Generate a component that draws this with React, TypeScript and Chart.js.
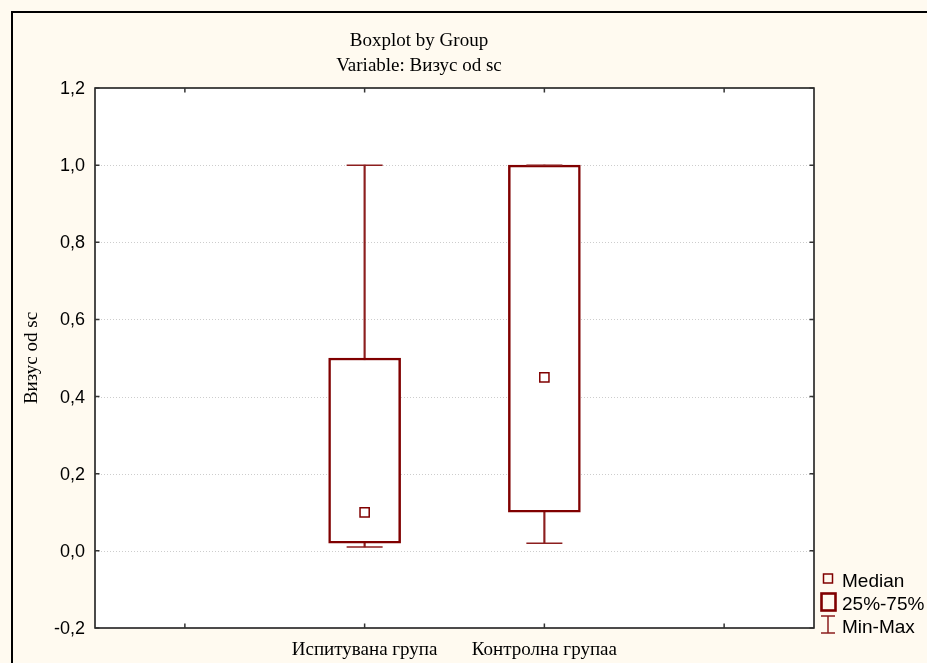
import { useEffect, useRef } from 'react';
import { Chart, registerables } from 'chart.js';

Chart.register(...registerables);

const W = 927;
const H = 663;

// Group statistics for "Визус od sc"
const categories = ['Испитувана група', 'Контролна групаа'];
const groupPositions = [2, 3];
const mins = [0.01, 0.02];
const q1s = [0.02, 0.1];
const medians = [0.1, 0.45];
const q3s = [0.5, 1.0];
const maxs = [1.0, 1.0];

const xTickPositions = [1, 2, 3, 4];
const yTickValues = [-0.2, 0, 0.2, 0.4, 0.6, 0.8, 1.0, 1.2];
const Y_MIN = -0.2;
const Y_MAX = 1.2;

const titleLines = ['Boxplot by Group', 'Variable: Визус od sc'];
const yAxisTitle = 'Визус od sc';
const legendItems = ['Median', '25%-75%', 'Min-Max'];

const BOX_RED = '#800000';
const WHISKER_RED = '#8c1e1e';
const CREAM = '#fffaf0';
const SERIF = '"Liberation Serif", "Times New Roman", serif';
const SANS = '"Liberation Sans", Arial, sans-serif';

const fmt = (v: number) => v.toFixed(1).replace('.', ',');

const decor = {
  id: 'decor',
  beforeDraw(chart: any) {
    const { ctx, chartArea: a } = chart;
    const ys = chart.scales.y;
    ctx.save();
    ctx.fillStyle = CREAM;
    ctx.fillRect(0, 0, W, H);
    ctx.fillStyle = '#ffffff';
    ctx.fillRect(a.left, a.top, a.right - a.left, a.bottom - a.top);
    // dotted horizontal grid
    ctx.strokeStyle = '#cdcdcd';
    ctx.lineWidth = 1;
    ctx.setLineDash([1, 2]);
    for (const v of yTickValues) {
      if (v <= Y_MIN || v >= Y_MAX) continue;
      const py = Math.round(ys.getPixelForValue(v)) + 0.5;
      ctx.beginPath();
      ctx.moveTo(a.left, py);
      ctx.lineTo(a.right, py);
      ctx.stroke();
    }
    ctx.restore();
  },
  afterDraw(chart: any) {
    const { ctx, chartArea: a } = chart;
    const xs = chart.scales.x;
    const ys = chart.scales.y;
    ctx.save();

    // plot frame
    ctx.strokeStyle = '#111';
    ctx.lineWidth = 1.5;
    ctx.strokeRect(a.left, a.top, a.right - a.left, a.bottom - a.top);

    // inward ticks
    ctx.lineWidth = 1.5;
    ctx.strokeStyle = '#333';
    const tl = 4.5;
    for (const v of yTickValues) {
      const py = ys.getPixelForValue(v);
      ctx.beginPath();
      ctx.moveTo(a.left, py);
      ctx.lineTo(a.left + tl, py);
      ctx.moveTo(a.right, py);
      ctx.lineTo(a.right - tl, py);
      ctx.stroke();
    }
    for (const v of xTickPositions) {
      const px = xs.getPixelForValue(v);
      ctx.beginPath();
      ctx.moveTo(px, a.top);
      ctx.lineTo(px, a.top + tl);
      ctx.moveTo(px, a.bottom);
      ctx.lineTo(px, a.bottom - tl);
      ctx.stroke();
    }

    // y tick labels
    ctx.fillStyle = '#000';
    ctx.font = `18px ${SANS}`;
    ctx.textAlign = 'right';
    ctx.textBaseline = 'middle';
    for (const v of yTickValues) {
      ctx.fillText(fmt(v), a.left - 10, ys.getPixelForValue(v) + 1);
    }

    // category labels
    ctx.font = `19px ${SERIF}`;
    ctx.textAlign = 'center';
    ctx.textBaseline = 'alphabetic';
    categories.forEach((c, i) => {
      ctx.fillText(c, xs.getPixelForValue(groupPositions[i]), 655);
    });

    // titles
    ctx.fillText(titleLines[0], 419, 46);
    ctx.fillText(titleLines[1], 419, 71);

    // y axis title
    ctx.save();
    ctx.translate(32, 358);
    ctx.rotate(-Math.PI / 2);
    ctx.textBaseline = 'middle';
    ctx.fillText(yAxisTitle, 0, 0);
    ctx.restore();

    // legend
    ctx.font = `19px ${SANS}`;
    ctx.textAlign = 'left';
    ctx.textBaseline = 'alphabetic';
    ctx.strokeStyle = BOX_RED;
    ctx.lineWidth = 1.5;
    ctx.strokeRect(823.5, 574, 9, 9);
    ctx.fillText(legendItems[0], 842, 587);
    ctx.lineWidth = 2.6;
    ctx.strokeRect(821.5, 593.5, 14, 17);
    ctx.fillText(legendItems[1], 842, 610);
    ctx.strokeStyle = WHISKER_RED;
    ctx.lineWidth = 1.5;
    ctx.beginPath();
    ctx.moveTo(821, 616);
    ctx.lineTo(835, 616);
    ctx.moveTo(828, 616);
    ctx.lineTo(828, 633);
    ctx.moveTo(821, 633);
    ctx.lineTo(835, 633);
    ctx.stroke();
    ctx.fillText(legendItems[2], 842, 633);

    // outer border
    ctx.strokeStyle = '#000';
    ctx.lineWidth = 2;
    ctx.beginPath();
    ctx.moveTo(12, H);
    ctx.lineTo(12, 12);
    ctx.lineTo(W, 12);
    ctx.stroke();

    ctx.restore();
  },
};

export default function App() {
  const ref = useRef<HTMLCanvasElement | null>(null);

  useEffect(() => {
    if (!ref.current) return;
    const chart = new Chart(ref.current, {
      type: 'bar',
      data: {
        datasets: [
          {
            // whisker stems
            type: 'bar',
            data: groupPositions.map((x, i) => ({ x, y: [mins[i], maxs[i]] })),
            backgroundColor: WHISKER_RED,
            borderWidth: 0,
            barThickness: 1.5,
            grouped: false,
            order: 4,
          } as any,
          {
            // 25%-75% boxes
            type: 'bar',
            data: groupPositions.map((x, i) => ({ x, y: [q1s[i], q3s[i]] })),
            backgroundColor: '#ffffff',
            borderColor: BOX_RED,
            borderWidth: 2.5,
            borderSkipped: false,
            barThickness: 72,
            grouped: false,
            order: 3,
          } as any,
          {
            // min / max caps
            type: 'scatter',
            data: groupPositions.flatMap((x, i) => [
              { x, y: mins[i] },
              { x, y: maxs[i] },
            ]),
            pointStyle: 'line',
            radius: 18,
            borderColor: WHISKER_RED,
            borderWidth: 1.5,
            order: 2,
          } as any,
          {
            // medians
            type: 'scatter',
            data: groupPositions.map((x, i) => ({ x, y: medians[i] })),
            pointStyle: 'rect',
            radius: 6.5,
            backgroundColor: '#ffffff',
            borderColor: BOX_RED,
            borderWidth: 1.5,
            order: 1,
          } as any,
        ],
      },
      options: {
        responsive: false,
        animation: false,
        events: [],
        layout: { padding: { left: 95, top: 88, right: 113, bottom: 35 } },
        plugins: { legend: { display: false }, tooltip: { enabled: false } },
        scales: {
          x: { type: 'linear', min: 0.5, max: 4.5, offset: false, display: false },
          y: { type: 'linear', min: Y_MIN, max: Y_MAX, display: false },
        },
      },
      plugins: [decor],
    });
    return () => chart.destroy();
  }, []);

  return (
    <div style={{ position: 'fixed', left: 0, top: 0, width: W, height: H }}>
      <canvas ref={ref} width={W} height={H} style={{ width: W, height: H, display: 'block' }} />
    </div>
  );
}
